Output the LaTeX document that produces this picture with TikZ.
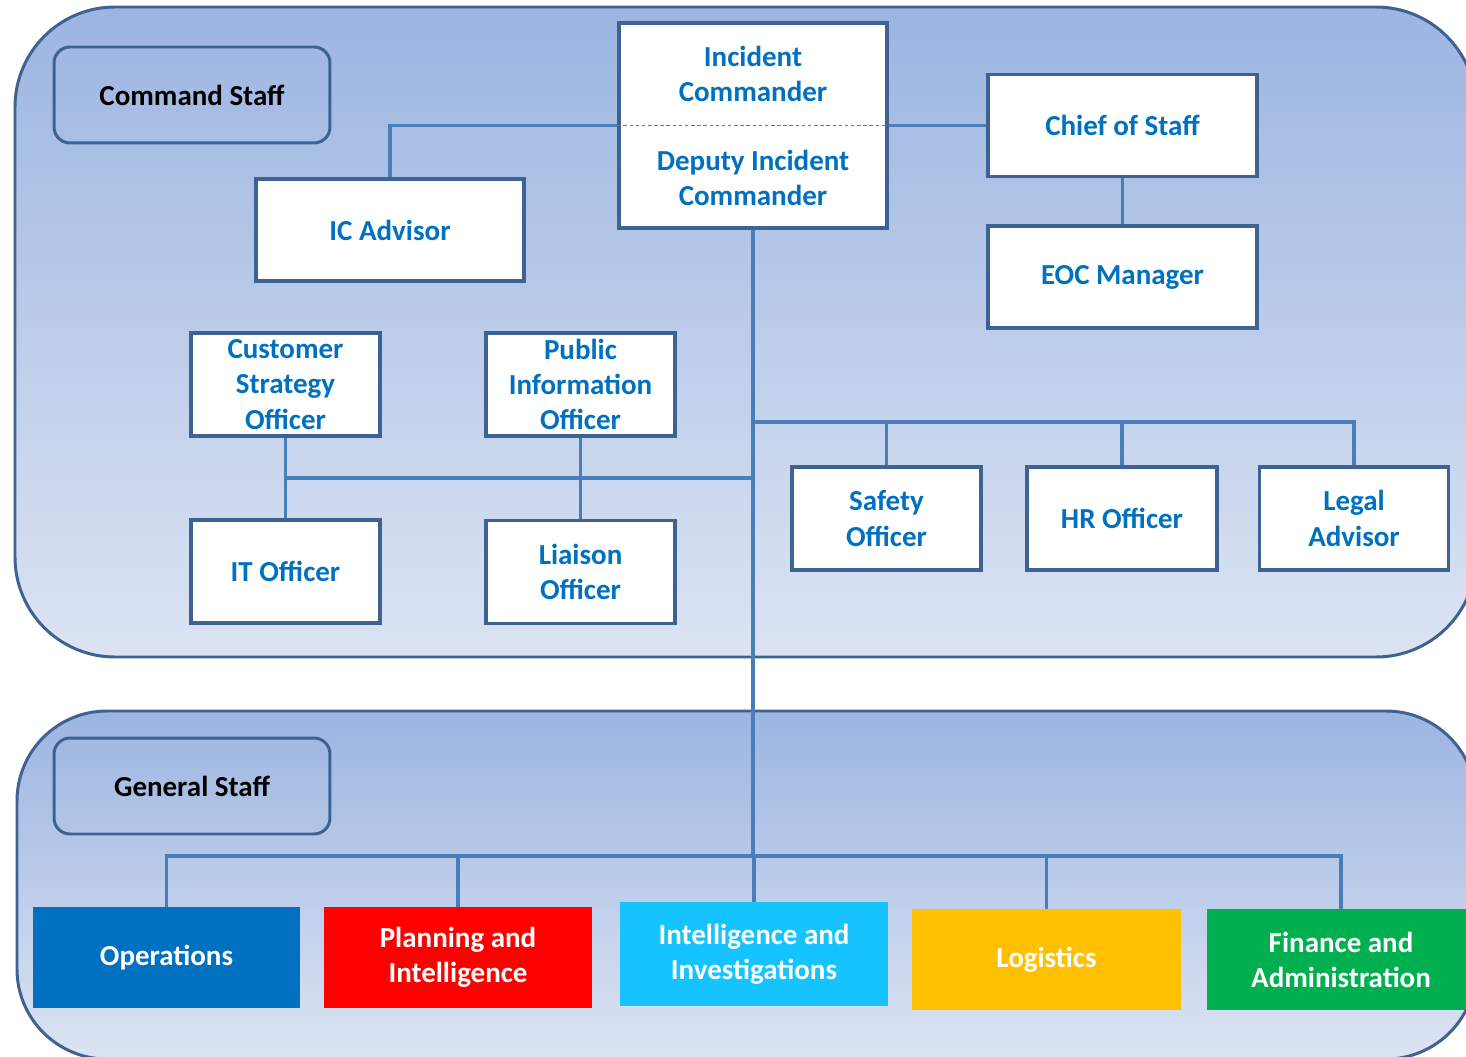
\documentclass[tikz,border=0pt]{standalone}
\usepackage{fontspec}
\usepackage{xcolor}
\usepackage{tikz}
\usetikzlibrary{positioning, calc}
\setmainfont{Carlito}
\definecolor{frame}{HTML}{3E6291}
\definecolor{wire}{HTML}{4A7EBB}
\definecolor{txtblue}{HTML}{0070C0}
\definecolor{paneltop}{HTML}{9CB5E1}
\definecolor{panelbot}{HTML}{DCE4F3}
\definecolor{opsblue}{HTML}{0070C0}
\definecolor{planred}{HTML}{FF0000}
\definecolor{intelcyan}{HTML}{15C3FF}
\definecolor{logyellow}{HTML}{FFC000}
\definecolor{fingreen}{HTML}{00B050}

\tikzset{
  panel/.style={draw=frame, line width=1.7pt, rounded corners=2cm,
    top color=paneltop, bottom color=panelbot},
  grouptag/.style={draw=frame, line width=1.7pt, rounded corners=0.32cm,
    minimum width=5.52cm, minimum height=1.92cm, text=black},
  rolebox/.style={draw=frame, fill=white, line width=2pt, text=txtblue,
    align=center, inner sep=0pt, minimum width=5.36cm, minimum height=2.04cm},
  officer/.style={rolebox, minimum width=3.78cm, minimum height=2.06cm},
  section/.style={text=white, align=center, inner sep=0pt,
    minimum width=5.36cm, minimum height=2.04cm},
  link/.style={draw=wire, line width=2.2pt},
}

\begin{document}
\begin{tikzpicture}[x=0.02cm, y=-0.02cm,
    font=\fontsize{16.5}{20}\selectfont\bfseries]
  \clip (0,0) rectangle (1466,1057);

  % Hintergrundflaechen
  \draw[panel] (15,7) rectangle (1476,657);
  \draw[panel, rounded corners=1.8cm] (17,711) rectangle (1476,1059);

  % Gruppentitel
  \node[grouptag] (cmdtag) at (192,95) {Command Staff};
  \node[grouptag] (gentag) at (192,786) {General Staff};

  % Fuehrung
  \node[rolebox, minimum height=4.1cm] (ic) at (753,125.5) {};
  \node[text=txtblue, align=center] (icname) at (753,74) {Incident\\Commander};
  \node[text=txtblue, align=center] (deputy) at (753,178) {Deputy Incident\\Commander};
  \draw[wire, line width=0.7pt, dash pattern=on 2pt off 1.5pt] (ic.west) -- (ic.east);

  \node[rolebox] (icadv) at (390,230) {IC Advisor};
  \node[rolebox, minimum width=5.38cm] (cos) at (1122.5,125.5) {Chief of Staff};
  \node[rolebox, minimum width=5.38cm] (eoc) at (1122.5,277) {EOC Manager};

  % Command Staff
  \node[officer] (cso) at (285.5,384.5) {Customer\\Strategy\\Officer};
  \node[officer] (pio) at (580.5,384.5) {Public\\Information\\Officer};
  \node[officer] (it) at (285.5,571.5) {IT Officer};
  \node[officer] (liaison) at (580.5,572) {Liaison\\Officer};
  \node[officer] (safety) at (886.5,518.5) {Safety\\Officer};
  \node[officer, minimum width=3.8cm] (hr) at (1122,518.5) {HR Officer};
  \node[officer] (legal) at (1354,518.5) {Legal\\Advisor};

  % General Staff
  \node[section, fill=opsblue, minimum width=5.34cm, minimum height=2.02cm] (ops) at (166.5,957.5) {Operations};
  \node[section, fill=planred, minimum height=2.02cm] (plan) at (458,957.5) {Planning and\\Intelligence};
  \node[section, fill=intelcyan, minimum height=2.08cm] (intel) at (754,954) {Intelligence and\\Investigations};
  \node[section, fill=logyellow, minimum width=5.38cm, minimum height=2.02cm] (log) at (1046.5,959.5) {Logistics};
  \node[section, fill=fingreen, minimum height=2.02cm] (fin) at (1341,959.5) {Finance and\\Administration};

  % Verbindungen
  \coordinate (rtee) at (ic.south |- 0,422);
  \coordinate (ltee) at (ic.south |- 0,478);
  \coordinate (gbus) at (ic.south |- 0,856);

  \draw[link] (ic.west) -| (icadv.north);
  \draw[link] (ic.east) -- (cos.west);
  \draw[link] (cos) -- (eoc);
  \draw[link] (ic.south) -- (gbus);

  \draw[link] (rtee) -| (legal.north);
  \foreach \n in {safety, hr}
    \draw[link] (\n.north) -- (\n.north |- rtee);

  \draw[link] (ltee) -| (it.north);
  \draw[link] (cso) -- (it);
  \draw[link] (pio) -- (liaison);

  \draw[link] (ops.north) |- (gbus) -| (fin.north);
  \foreach \n in {plan, intel, log}
    \draw[link] (\n.north) -- (\n.north |- gbus);
\end{tikzpicture}
\end{document}
